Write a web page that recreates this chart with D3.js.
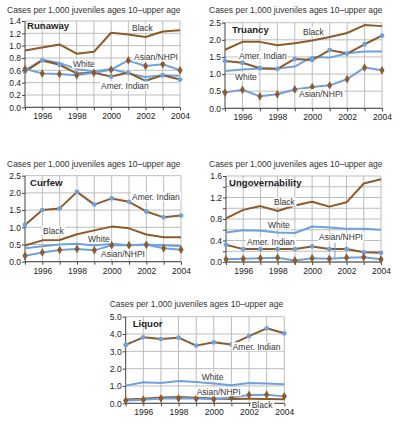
<!DOCTYPE html>
<html><head><meta charset="utf-8">
<script src="https://cdn.jsdelivr.net/npm/d3@7"></script>
<style>
html,body{margin:0;padding:0;background:#fff;}
svg{display:block;font-family:"Liberation Sans",Arial,Helvetica,sans-serif;}
</style></head>
<body>
<svg id="chart" width="400" height="435"></svg>
<script>
const years = [1995,1996,1997,1998,1999,2000,2001,2002,2003,2004];
const xTickYears = [1996,1998,2000,2002,2004];
const yAxisTitle = "Cases per 1,000 juveniles ages 10\u2013upper age";

// Runaway
const runawayBlack = [0.92,0.97,1.02,0.87,0.90,1.21,1.18,1.14,1.23,1.25];
const runawayWhite = [0.60,0.77,0.72,0.62,0.58,0.62,0.55,0.49,0.52,0.51];
const runawayAmerIndian = [0.58,0.76,0.69,0.55,0.56,0.50,0.56,0.43,0.52,0.45];
const runawayAsian = [0.62,0.55,0.54,0.52,0.56,0.61,0.76,0.67,0.70,0.60];
const runawayTicks = [0,0.2,0.4,0.6,0.8,1.0,1.2,1.4];

// Truancy
const truancyBlack = [1.71,1.94,1.94,1.84,1.90,1.98,2.08,2.20,2.43,2.40];
const truancyWhite = [1.09,1.13,1.16,1.16,1.22,1.50,1.48,1.61,1.66,1.66];
const truancyAmerIndian = [1.38,1.33,1.17,1.15,1.44,1.41,1.70,1.60,1.87,2.12];
const truancyAsian = [0.46,0.54,0.35,0.41,0.55,0.62,0.67,0.85,1.19,1.11];
const truancyTicks = [0,0.5,1.0,1.5,2.0,2.5];

// Curfew
const curfewBlack = [0.47,0.62,0.63,0.80,0.91,1.02,0.97,0.79,0.71,0.71];
const curfewWhite = [0.39,0.45,0.50,0.52,0.47,0.52,0.48,0.50,0.48,0.45];
const curfewAmerIndian = [1.07,1.50,1.55,2.03,1.66,1.84,1.74,1.46,1.29,1.34];
const curfewAsian = [0.17,0.27,0.34,0.37,0.33,0.48,0.48,0.49,0.39,0.35];
const curfewTicks = [0,0.5,1.0,1.5,2.0,2.5];

// Ungovernability
const ungovBlack = [0.81,0.97,1.04,0.95,1.05,1.12,1.03,1.11,1.46,1.54];
const ungovWhite = [0.55,0.59,0.58,0.55,0.54,0.66,0.64,0.62,0.62,0.60];
const ungovAmerIndian = [0.32,0.24,0.24,0.24,0.24,0.29,0.24,0.24,0.18,0.17];
const ungovAsian = [0.05,0.06,0.07,0.08,0.03,0.07,0.06,0.08,0.09,0.05];
const ungovTicks = [0,0.4,0.8,1.2,1.6];
const ungovGrid = [0,0.2,0.4,0.6,0.8,1.0,1.2,1.4,1.6];

// Liquor
const liquorBlack = [0.22,0.26,0.33,0.36,0.32,0.28,0.25,0.26,0.25,0.23];
const liquorWhite = [1.02,1.21,1.17,1.29,1.23,1.15,1.04,1.17,1.15,1.10];
const liquorAmerIndian = [3.37,3.81,3.71,3.79,3.33,3.52,3.40,3.88,4.33,4.04];
const liquorAsian = [0.16,0.21,0.28,0.29,0.27,0.23,0.33,0.48,0.50,0.40];
const liquorTicks = [0,1,2,3,4,5];

const BROWN = "#8c5a2b", BLUE = "#6fa1dc", GRID = "#bdbdbd", AXIS = "#444";

const panels = [
  {title:"Runaway", box:[25,180,21,107.3], max:1.4, ticks:runawayTicks, grid:runawayTicks,
   black:runawayBlack, white:runawayWhite, amer:runawayAmerIndian, asian:runawayAsian,
   titlePos:[-18,-8], namePos:[2,8],
   labels:[["Black",107,10],["White",48,46],["Asian/NHPI",109,39],["Amer. Indian",76,68]]},
  {title:"Truancy", box:[225,382,22.7,108.3], max:2.5, ticks:truancyTicks, grid:truancyTicks,
   black:truancyBlack, white:truancyWhite, amer:truancyAmerIndian, asian:truancyAsian,
   titlePos:[-16,-9.7], namePos:[7,10],
   labels:[["Black",78,12],["Amer. Indian",14,36],["White",10,57],["Asian/NHPI",74,74]]},
  {title:"Curfew", box:[25,181,175.7,261.7], max:2.5, ticks:curfewTicks, grid:curfewTicks,
   black:curfewBlack, white:curfewWhite, amer:curfewAmerIndian, asian:curfewAsian,
   titlePos:[-18,-9], namePos:[5,10],
   labels:[["Amer. Indian",107,24],["Black",18,58],["White",63,66],["Asian/NHPI",76,81]]},
  {title:"Ungovernability", box:[226,381,176,262], max:1.6, ticks:ungovTicks, grid:ungovGrid,
   black:ungovBlack, white:ungovWhite, amer:ungovAmerIndian, asian:ungovAsian,
   titlePos:[-17,-9], namePos:[3,10],
   labels:[["Black",48,29],["White",42,52],["Amer. Indian",21,69],["Asian/NHPI",93,64]],
   leader:[109,67,109,83]},
  {title:"Liquor", box:[125.7,284.3,316.7,403.3], max:5, ticks:liquorTicks, grid:liquorTicks,
   black:liquorBlack, white:liquorWhite, amer:liquorAmerIndian, asian:liquorAsian,
   titlePos:[-16,-9.5], namePos:[7,10],
   labels:[["Amer. Indian",107,33],["White",76,63],["Asian/NHPI",71,78],["Black",126,91]]}
];

const svg = d3.select("#chart");
const FS = 8.5;

panels.forEach(p => {
  const [x0,x1,y0,y1] = p.box;
  const x = d3.scaleLinear().domain([1995,2004]).range([x0,x1]);
  const y = d3.scaleLinear().domain([0,p.max]).range([y1,y0]);
  const g = svg.append("g");
  const fmt = p.max >= 2.5 ? d3.format(".1f") : d3.format(".1f");

  // grid
  g.append("g").selectAll("line.h").data(p.grid).join("line")
    .attr("x1",x0).attr("x2",x1).attr("y1",d=>y(d)).attr("y2",d=>y(d))
    .attr("stroke",GRID).attr("stroke-width",1);
  g.append("g").selectAll("line.v").data(years.slice(1)).join("line")
    .attr("x1",d=>x(d)).attr("x2",d=>x(d)).attr("y1",y0).attr("y2",y1)
    .attr("stroke",GRID).attr("stroke-width",1);

  // axes
  const yAxis = d3.axisLeft(y).tickValues(p.grid).tickSize(3)
    .tickFormat(d => p.ticks.some(t=>Math.abs(t-d)<1e-9) ? fmt(d) : "");
  const ya = g.append("g").attr("transform",`translate(${x0},0)`).call(yAxis);
  ya.select(".domain").attr("stroke",AXIS).attr("d",`M-0,${y1}V${y0}`);
  ya.selectAll(".tick line").attr("stroke",AXIS);
  ya.selectAll("text").attr("font-size",FS).attr("fill","#222").attr("x",-4)
    .attr("font-family","Liberation Sans, Arial, sans-serif");

  const xAxis = d3.axisBottom(x).tickValues(years).tickSize(3)
    .tickFormat(d => xTickYears.includes(d) ? String(d) : "");
  const xa = g.append("g").attr("transform",`translate(0,${y1})`).call(xAxis);
  xa.select(".domain").attr("stroke",AXIS).attr("d",`M${x0},0H${x1}`);
  xa.selectAll(".tick line").attr("stroke",AXIS);
  xa.selectAll("text").attr("font-size",FS).attr("fill","#222").attr("y",6)
    .attr("font-family","Liberation Sans, Arial, sans-serif");

  // lines
  const line = d3.line().x((d,i)=>x(years[i])).y(d=>y(d));
  const draw = (vals,color) => g.append("path").datum(vals).attr("d",line)
    .attr("fill","none").attr("stroke",color).attr("stroke-width",2).attr("stroke-linejoin","round");
  draw(p.black,BROWN);
  draw(p.white,BLUE);
  draw(p.amer,BROWN);
  draw(p.asian,BLUE);

  // markers
  g.append("g").selectAll("circle").data(p.amer).join("circle")
    .attr("cx",(d,i)=>x(years[i])).attr("cy",d=>y(d)).attr("r",2.4).attr("fill",BLUE);
  const diamond = d3.symbol().type(d3.symbolDiamond).size(22);
  g.append("g").selectAll("path").data(p.asian).join("path")
    .attr("d",diamond).attr("transform",(d,i)=>`translate(${x(years[i])},${y(d)})`)
    .attr("fill",BROWN);

  // leader
  if (p.leader) {
    g.append("line").attr("x1",x0+p.leader[0]).attr("y1",y0+p.leader[1])
      .attr("x2",x0+p.leader[2]).attr("y2",y0+p.leader[3])
      .attr("stroke",BLUE).attr("stroke-width",1);
  }

  // series labels with white background
  p.labels.forEach(([t,dx,dy]) => {
    const lg = g.append("g");
    const txt = lg.append("text").attr("x",x0+dx).attr("y",y0+dy)
      .attr("font-size",FS).attr("fill","#333").text(t);
    const bb = txt.node().getBBox();
    lg.insert("rect","text").attr("x",bb.x-1).attr("y",bb.y+0.5)
      .attr("width",bb.width+2).attr("height",bb.height-1).attr("fill","#fff");
  });

  // panel name
  g.append("text").attr("x",x0+p.namePos[0]).attr("y",y0+p.namePos[1])
    .attr("font-size",9.6).attr("font-weight","bold").attr("fill","#222").text(p.title);

  // y-axis title
  g.append("text").attr("x",x0+p.titlePos[0]).attr("y",y0+p.titlePos[1])
    .attr("font-size",FS).attr("fill","#333").text(yAxisTitle);
});
</script>
</body></html>
